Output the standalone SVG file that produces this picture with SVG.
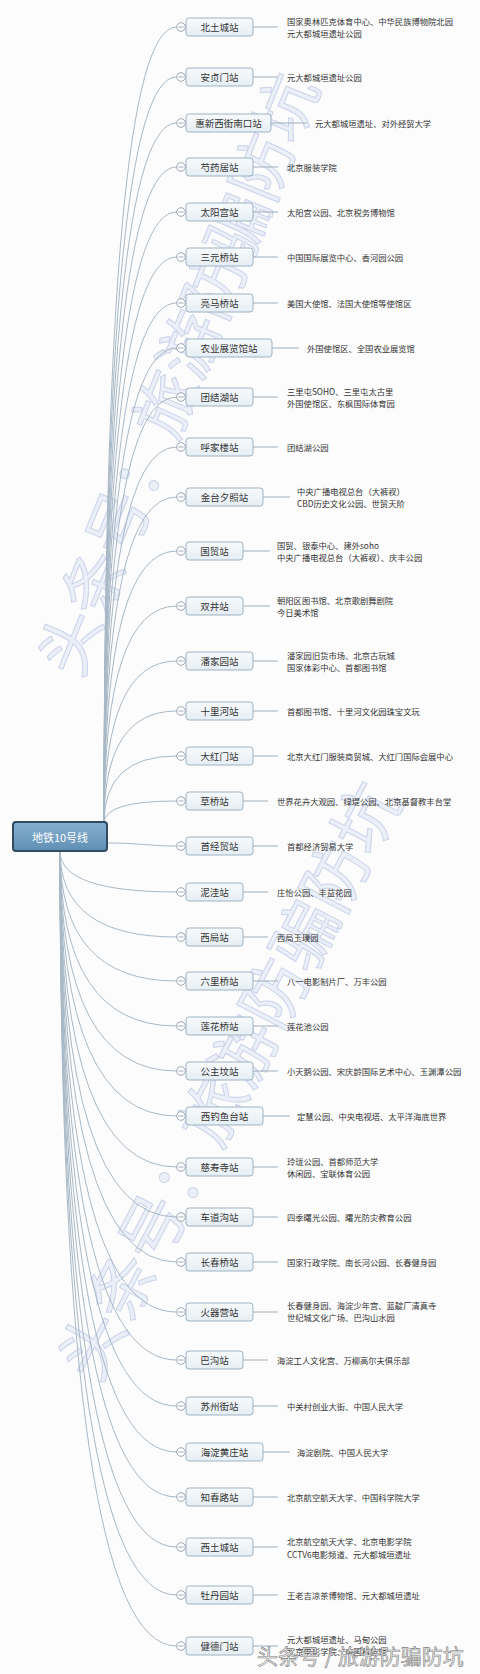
<svg xmlns="http://www.w3.org/2000/svg" width="480" height="1674" viewBox="0 0 480 1674">
<defs>
<linearGradient id="rootg" x1="0" y1="0" x2="0" y2="1"><stop offset="0" stop-color="#86b0d0"/><stop offset="1" stop-color="#5f8fb4"/></linearGradient>
<linearGradient id="boxg" x1="0" y1="0" x2="0" y2="1"><stop offset="0" stop-color="#f7fafc"/><stop offset="1" stop-color="#e6eef4"/></linearGradient>
<style>
.bg{fill:#fcfcfc}
.wm{font-family:'Noto Sans CJK SC',sans-serif;fill:#e6ebf7;stroke:#bcc6e5;stroke-width:1;opacity:0.75}
.c{fill:none;stroke:#a8b8c6;stroke-width:1}
.s{fill:none;stroke:#9fb0be;stroke-width:1}
.box{fill:url(#boxg);stroke:#9cb2c4;stroke-width:1}
.dot{fill:#fff;stroke:#8e9ca8;stroke-width:0.9}
.mn{stroke:#8e9ca8;stroke-width:0.9}
.nt{font-family:'Noto Sans CJK SC',sans-serif;font-size:9.5px;fill:#333;text-anchor:middle;dominant-baseline:central}
.lt{font-family:'Noto Sans CJK SC',sans-serif;font-size:8.3px;fill:#333;dominant-baseline:central}
.rt{font-family:'Noto Sans CJK SC',sans-serif;font-size:11px;fill:#fff;text-anchor:middle;dominant-baseline:central}
.ft{font-family:'Noto Sans CJK SC',sans-serif;font-size:21px;fill:#ececec;stroke:#808080;stroke-width:0.6}
</style>
</defs>
<rect class="bg" x="0" y="0" width="480" height="1674"/>
<g id="watermarks">
<text class="wm" font-size="64" transform="translate(80,680) rotate(-68)">头条号：旅游防骗防坑</text>
<text class="wm" font-size="66" transform="translate(98,1385) rotate(-62.5)">头条号：旅游防骗防坑</text>
</g>
<g id="connectors">
<path class="c" d="M104 823 Q104 27 176.5 27"/>
<path class="c" d="M104 823 Q104 77 176.5 77"/>
<path class="c" d="M104 823 Q104 123 176.5 123"/>
<path class="c" d="M104 823 Q104 167 176.5 167"/>
<path class="c" d="M104 823 Q104 212 176.5 212"/>
<path class="c" d="M104 823 Q104 257 176.5 257"/>
<path class="c" d="M104 823 Q104 303 176.5 303"/>
<path class="c" d="M104 823 Q104 348 176.5 348"/>
<path class="c" d="M104 823 Q104 397 176.5 397"/>
<path class="c" d="M104 823 Q104 447 176.5 447"/>
<path class="c" d="M104 823 Q104 497 176.5 497"/>
<path class="c" d="M104 823 Q104 551 176.5 551"/>
<path class="c" d="M104 823 Q104 606 176.5 606"/>
<path class="c" d="M104 823 Q104 661 176.5 661"/>
<path class="c" d="M104 823 Q104 711 176.5 711"/>
<path class="c" d="M104 823 Q104 756 176.5 756"/>
<path class="c" d="M104 823 Q104 801 176.5 801"/>
<path class="c" d="M106 843 C140 843 150 846 176.5 846"/>
<path class="c" d="M60 851 Q60 892 176.5 892"/>
<path class="c" d="M60 851 Q60 937 176.5 937"/>
<path class="c" d="M60 851 Q60 981 176.5 981"/>
<path class="c" d="M60 851 Q60 1026 176.5 1026"/>
<path class="c" d="M60 851 Q60 1071 176.5 1071"/>
<path class="c" d="M60 851 Q60 1116 176.5 1116"/>
<path class="c" d="M60 851 Q60 1167 176.5 1167"/>
<path class="c" d="M60 851 Q60 1217 176.5 1217"/>
<path class="c" d="M60 851 Q60 1262 176.5 1262"/>
<path class="c" d="M60 851 Q60 1312 176.5 1312"/>
<path class="c" d="M60 851 Q60 1360 176.5 1360"/>
<path class="c" d="M60 851 Q60 1406 176.5 1406"/>
<path class="c" d="M60 851 Q60 1452 176.5 1452"/>
<path class="c" d="M60 851 Q60 1497 176.5 1497"/>
<path class="c" d="M60 851 Q60 1547 176.5 1547"/>
<path class="c" d="M60 851 Q60 1595 176.5 1595"/>
<path class="c" d="M60 851 Q60 1646 176.5 1646"/>
</g>
<g id="root">
<rect x="13" y="822" width="94" height="29" rx="3" fill="url(#rootg)" stroke="#2f4c63" stroke-width="2"/>
<text class="rt" x="60" y="836.5">地铁10号线</text>
</g>
<g id="n1"><rect class="box" x="186" y="18" width="67" height="18" rx="3"/><circle class="dot" cx="181" cy="27" r="4.3"/><line class="mn" x1="178.5" y1="27" x2="183.5" y2="27"/><text class="nt" x="219.5" y="27">北土城站</text><line class="s" x1="253" y1="27" x2="278" y2="27"/><text class="lt" x="287" y="21">国家奥林匹克体育中心、中华民族博物院北园</text><text class="lt" x="287" y="33">元大都城垣遗址公园</text></g>
<g id="n2"><rect class="box" x="186" y="68" width="67" height="18" rx="3"/><circle class="dot" cx="181" cy="77" r="4.3"/><line class="mn" x1="178.5" y1="77" x2="183.5" y2="77"/><text class="nt" x="219.5" y="77">安贞门站</text><line class="s" x1="253" y1="77" x2="278" y2="77"/><text class="lt" x="287" y="77">元大都城垣遗址公园</text></g>
<g id="n3"><rect class="box" x="186" y="114" width="85" height="18" rx="3"/><circle class="dot" cx="181" cy="123" r="4.3"/><line class="mn" x1="178.5" y1="123" x2="183.5" y2="123"/><text class="nt" x="228.5" y="123">惠新西街南口站</text><line class="s" x1="271" y1="123" x2="307" y2="123"/><text class="lt" x="315" y="123">元大都城垣遗址、对外经贸大学</text></g>
<g id="n4"><rect class="box" x="186" y="158" width="67" height="18" rx="3"/><circle class="dot" cx="181" cy="167" r="4.3"/><line class="mn" x1="178.5" y1="167" x2="183.5" y2="167"/><text class="nt" x="219.5" y="167">芍药居站</text><line class="s" x1="253" y1="167" x2="278" y2="167"/><text class="lt" x="287" y="167">北京服装学院</text></g>
<g id="n5"><rect class="box" x="186" y="203" width="67" height="18" rx="3"/><circle class="dot" cx="181" cy="212" r="4.3"/><line class="mn" x1="178.5" y1="212" x2="183.5" y2="212"/><text class="nt" x="219.5" y="212">太阳宫站</text><line class="s" x1="253" y1="212" x2="278" y2="212"/><text class="lt" x="287" y="212">太阳宫公园、北京税务博物馆</text></g>
<g id="n6"><rect class="box" x="186" y="248" width="67" height="18" rx="3"/><circle class="dot" cx="181" cy="257" r="4.3"/><line class="mn" x1="178.5" y1="257" x2="183.5" y2="257"/><text class="nt" x="219.5" y="257">三元桥站</text><line class="s" x1="253" y1="257" x2="278" y2="257"/><text class="lt" x="287" y="257">中国国际展览中心、香河园公园</text></g>
<g id="n7"><rect class="box" x="186" y="294" width="67" height="18" rx="3"/><circle class="dot" cx="181" cy="303" r="4.3"/><line class="mn" x1="178.5" y1="303" x2="183.5" y2="303"/><text class="nt" x="219.5" y="303">亮马桥站</text><line class="s" x1="253" y1="303" x2="278" y2="303"/><text class="lt" x="287" y="303">美国大使馆、法国大使馆等使馆区</text></g>
<g id="n8"><rect class="box" x="186" y="339" width="86" height="18" rx="3"/><circle class="dot" cx="181" cy="348" r="4.3"/><line class="mn" x1="178.5" y1="348" x2="183.5" y2="348"/><text class="nt" x="229" y="348">农业展览馆站</text><line class="s" x1="272" y1="348" x2="299" y2="348"/><text class="lt" x="307" y="348">外国使馆区、全国农业展览馆</text></g>
<g id="n9"><rect class="box" x="186" y="388" width="67" height="18" rx="3"/><circle class="dot" cx="181" cy="397" r="4.3"/><line class="mn" x1="178.5" y1="397" x2="183.5" y2="397"/><text class="nt" x="219.5" y="397">团结湖站</text><line class="s" x1="253" y1="397" x2="278" y2="397"/><text class="lt" x="287" y="391">三里屯SOHO、三里屯太古里</text><text class="lt" x="287" y="403">外国使馆区、东枫国际体育园</text></g>
<g id="n10"><rect class="box" x="186" y="438" width="67" height="18" rx="3"/><circle class="dot" cx="181" cy="447" r="4.3"/><line class="mn" x1="178.5" y1="447" x2="183.5" y2="447"/><text class="nt" x="219.5" y="447">呼家楼站</text><line class="s" x1="253" y1="447" x2="278" y2="447"/><text class="lt" x="287" y="447">团结湖公园</text></g>
<g id="n11"><rect class="box" x="186" y="488" width="77" height="18" rx="3"/><circle class="dot" cx="181" cy="497" r="4.3"/><line class="mn" x1="178.5" y1="497" x2="183.5" y2="497"/><text class="nt" x="224.5" y="497">金台夕照站</text><line class="s" x1="263" y1="497" x2="290" y2="497"/><text class="lt" x="297" y="491">中央广播电视总台（大裤衩）</text><text class="lt" x="297" y="503">CBD历史文化公园、世贸天阶</text></g>
<g id="n12"><rect class="box" x="186" y="542" width="57" height="18" rx="3"/><circle class="dot" cx="181" cy="551" r="4.3"/><line class="mn" x1="178.5" y1="551" x2="183.5" y2="551"/><text class="nt" x="214.5" y="551">国贸站</text><line class="s" x1="243" y1="551" x2="270" y2="551"/><text class="lt" x="277" y="545">国贸、银泰中心、建外soho</text><text class="lt" x="277" y="557">中央广播电视总台（大裤衩）、庆丰公园</text></g>
<g id="n13"><rect class="box" x="186" y="597" width="57" height="18" rx="3"/><circle class="dot" cx="181" cy="606" r="4.3"/><line class="mn" x1="178.5" y1="606" x2="183.5" y2="606"/><text class="nt" x="214.5" y="606">双井站</text><line class="s" x1="243" y1="606" x2="270" y2="606"/><text class="lt" x="277" y="600">朝阳区图书馆、北京歌剧舞剧院</text><text class="lt" x="277" y="612">今日美术馆</text></g>
<g id="n14"><rect class="box" x="186" y="652" width="67" height="18" rx="3"/><circle class="dot" cx="181" cy="661" r="4.3"/><line class="mn" x1="178.5" y1="661" x2="183.5" y2="661"/><text class="nt" x="219.5" y="661">潘家园站</text><line class="s" x1="253" y1="661" x2="278" y2="661"/><text class="lt" x="287" y="655">潘家园旧货市场、北京古玩城</text><text class="lt" x="287" y="667">国家体彩中心、首都图书馆</text></g>
<g id="n15"><rect class="box" x="186" y="702" width="67" height="18" rx="3"/><circle class="dot" cx="181" cy="711" r="4.3"/><line class="mn" x1="178.5" y1="711" x2="183.5" y2="711"/><text class="nt" x="219.5" y="711">十里河站</text><line class="s" x1="253" y1="711" x2="278" y2="711"/><text class="lt" x="287" y="711">首都图书馆、十里河文化园珠宝文玩</text></g>
<g id="n16"><rect class="box" x="186" y="747" width="67" height="18" rx="3"/><circle class="dot" cx="181" cy="756" r="4.3"/><line class="mn" x1="178.5" y1="756" x2="183.5" y2="756"/><text class="nt" x="219.5" y="756">大红门站</text><line class="s" x1="253" y1="756" x2="278" y2="756"/><text class="lt" x="287" y="756">北京大红门服装商贸城、大红门国际会展中心</text></g>
<g id="n17"><rect class="box" x="186" y="792" width="57" height="18" rx="3"/><circle class="dot" cx="181" cy="801" r="4.3"/><line class="mn" x1="178.5" y1="801" x2="183.5" y2="801"/><text class="nt" x="214.5" y="801">草桥站</text><line class="s" x1="243" y1="801" x2="268" y2="801"/><text class="lt" x="277" y="801">世界花卉大观园、绿堤公园、北京基督教丰台堂</text></g>
<g id="n18"><rect class="box" x="186" y="837" width="67" height="18" rx="3"/><circle class="dot" cx="181" cy="846" r="4.3"/><line class="mn" x1="178.5" y1="846" x2="183.5" y2="846"/><text class="nt" x="219.5" y="846">首经贸站</text><line class="s" x1="253" y1="846" x2="278" y2="846"/><text class="lt" x="287" y="846">首都经济贸易大学</text></g>
<g id="n19"><rect class="box" x="186" y="883" width="57" height="18" rx="3"/><circle class="dot" cx="181" cy="892" r="4.3"/><line class="mn" x1="178.5" y1="892" x2="183.5" y2="892"/><text class="nt" x="214.5" y="892">泥洼站</text><line class="s" x1="243" y1="892" x2="268" y2="892"/><text class="lt" x="277" y="892">庄怡公园、丰益花园</text></g>
<g id="n20"><rect class="box" x="186" y="928" width="57" height="18" rx="3"/><circle class="dot" cx="181" cy="937" r="4.3"/><line class="mn" x1="178.5" y1="937" x2="183.5" y2="937"/><text class="nt" x="214.5" y="937">西局站</text><line class="s" x1="243" y1="937" x2="268" y2="937"/><text class="lt" x="277" y="937">西局玉璞园</text></g>
<g id="n21"><rect class="box" x="186" y="972" width="67" height="18" rx="3"/><circle class="dot" cx="181" cy="981" r="4.3"/><line class="mn" x1="178.5" y1="981" x2="183.5" y2="981"/><text class="nt" x="219.5" y="981">六里桥站</text><line class="s" x1="253" y1="981" x2="278" y2="981"/><text class="lt" x="287" y="981">八一电影制片厂、万丰公园</text></g>
<g id="n22"><rect class="box" x="186" y="1017" width="67" height="18" rx="3"/><circle class="dot" cx="181" cy="1026" r="4.3"/><line class="mn" x1="178.5" y1="1026" x2="183.5" y2="1026"/><text class="nt" x="219.5" y="1026">莲花桥站</text><line class="s" x1="253" y1="1026" x2="278" y2="1026"/><text class="lt" x="287" y="1026">莲花池公园</text></g>
<g id="n23"><rect class="box" x="186" y="1062" width="67" height="18" rx="3"/><circle class="dot" cx="181" cy="1071" r="4.3"/><line class="mn" x1="178.5" y1="1071" x2="183.5" y2="1071"/><text class="nt" x="219.5" y="1071">公主坟站</text><line class="s" x1="253" y1="1071" x2="278" y2="1071"/><text class="lt" x="287" y="1071">小天鹅公园、宋庆龄国际艺术中心、玉渊潭公园</text></g>
<g id="n24"><rect class="box" x="186" y="1107" width="77" height="18" rx="3"/><circle class="dot" cx="181" cy="1116" r="4.3"/><line class="mn" x1="178.5" y1="1116" x2="183.5" y2="1116"/><text class="nt" x="224.5" y="1116">西钓鱼台站</text><line class="s" x1="263" y1="1116" x2="290" y2="1116"/><text class="lt" x="297" y="1116">定慧公园、中央电视塔、太平洋海底世界</text></g>
<g id="n25"><rect class="box" x="186" y="1158" width="67" height="18" rx="3"/><circle class="dot" cx="181" cy="1167" r="4.3"/><line class="mn" x1="178.5" y1="1167" x2="183.5" y2="1167"/><text class="nt" x="219.5" y="1167">慈寿寺站</text><line class="s" x1="253" y1="1167" x2="278" y2="1167"/><text class="lt" x="287" y="1161">玲珑公园、首都师范大学</text><text class="lt" x="287" y="1173">休闲园、宝联体育公园</text></g>
<g id="n26"><rect class="box" x="186" y="1208" width="67" height="18" rx="3"/><circle class="dot" cx="181" cy="1217" r="4.3"/><line class="mn" x1="178.5" y1="1217" x2="183.5" y2="1217"/><text class="nt" x="219.5" y="1217">车道沟站</text><line class="s" x1="253" y1="1217" x2="278" y2="1217"/><text class="lt" x="287" y="1217">四季曙光公园、曙光防灾教育公园</text></g>
<g id="n27"><rect class="box" x="186" y="1253" width="67" height="18" rx="3"/><circle class="dot" cx="181" cy="1262" r="4.3"/><line class="mn" x1="178.5" y1="1262" x2="183.5" y2="1262"/><text class="nt" x="219.5" y="1262">长春桥站</text><line class="s" x1="253" y1="1262" x2="278" y2="1262"/><text class="lt" x="287" y="1262">国家行政学院、南长河公园、长春健身园</text></g>
<g id="n28"><rect class="box" x="186" y="1303" width="67" height="18" rx="3"/><circle class="dot" cx="181" cy="1312" r="4.3"/><line class="mn" x1="178.5" y1="1312" x2="183.5" y2="1312"/><text class="nt" x="219.5" y="1312">火器营站</text><line class="s" x1="253" y1="1312" x2="278" y2="1312"/><text class="lt" x="287" y="1305">长春健身园、海淀少年宫、蓝靛厂清真寺</text><text class="lt" x="287" y="1317">世纪城文化广场、巴沟山水园</text></g>
<g id="n29"><rect class="box" x="186" y="1351" width="57" height="18" rx="3"/><circle class="dot" cx="181" cy="1360" r="4.3"/><line class="mn" x1="178.5" y1="1360" x2="183.5" y2="1360"/><text class="nt" x="214.5" y="1360">巴沟站</text><line class="s" x1="243" y1="1360" x2="268" y2="1360"/><text class="lt" x="277" y="1360">海淀工人文化宫、万柳高尔夫俱乐部</text></g>
<g id="n30"><rect class="box" x="186" y="1397" width="67" height="18" rx="3"/><circle class="dot" cx="181" cy="1406" r="4.3"/><line class="mn" x1="178.5" y1="1406" x2="183.5" y2="1406"/><text class="nt" x="219.5" y="1406">苏州街站</text><line class="s" x1="253" y1="1406" x2="278" y2="1406"/><text class="lt" x="287" y="1406">中关村创业大街、中国人民大学</text></g>
<g id="n31"><rect class="box" x="186" y="1443" width="77" height="18" rx="3"/><circle class="dot" cx="181" cy="1452" r="4.3"/><line class="mn" x1="178.5" y1="1452" x2="183.5" y2="1452"/><text class="nt" x="224.5" y="1452">海淀黄庄站</text><line class="s" x1="263" y1="1452" x2="290" y2="1452"/><text class="lt" x="297" y="1452">海淀剧院、中国人民大学</text></g>
<g id="n32"><rect class="box" x="186" y="1488" width="67" height="18" rx="3"/><circle class="dot" cx="181" cy="1497" r="4.3"/><line class="mn" x1="178.5" y1="1497" x2="183.5" y2="1497"/><text class="nt" x="219.5" y="1497">知春路站</text><line class="s" x1="253" y1="1497" x2="278" y2="1497"/><text class="lt" x="287" y="1497">北京航空航天大学、中国科学院大学</text></g>
<g id="n33"><rect class="box" x="186" y="1538" width="67" height="18" rx="3"/><circle class="dot" cx="181" cy="1547" r="4.3"/><line class="mn" x1="178.5" y1="1547" x2="183.5" y2="1547"/><text class="nt" x="219.5" y="1547">西土城站</text><line class="s" x1="253" y1="1547" x2="278" y2="1547"/><text class="lt" x="287" y="1540.5">北京航空航天大学、北京电影学院</text><text class="lt" x="287" y="1553.5">CCTV6电影频道、元大都城垣遗址</text></g>
<g id="n34"><rect class="box" x="186" y="1586" width="67" height="18" rx="3"/><circle class="dot" cx="181" cy="1595" r="4.3"/><line class="mn" x1="178.5" y1="1595" x2="183.5" y2="1595"/><text class="nt" x="219.5" y="1595">牡丹园站</text><line class="s" x1="253" y1="1595" x2="278" y2="1595"/><text class="lt" x="287" y="1595">王老吉凉茶博物馆、元大都城垣遗址</text></g>
<g id="n35"><rect class="box" x="186" y="1637" width="67" height="18" rx="3"/><circle class="dot" cx="181" cy="1646" r="4.3"/><line class="mn" x1="178.5" y1="1646" x2="183.5" y2="1646"/><text class="nt" x="219.5" y="1646">健德门站</text><line class="s" x1="253" y1="1646" x2="278" y2="1646"/><text class="lt" x="287" y="1639">元大都城垣遗址、马甸公园</text><text class="lt" x="287" y="1651">北京电影学院、中国科技馆</text></g>
<g id="footer">
<text class="ft" x="257" y="1664">头条号 / 旅游防骗防坑</text>
</g>
</svg>
